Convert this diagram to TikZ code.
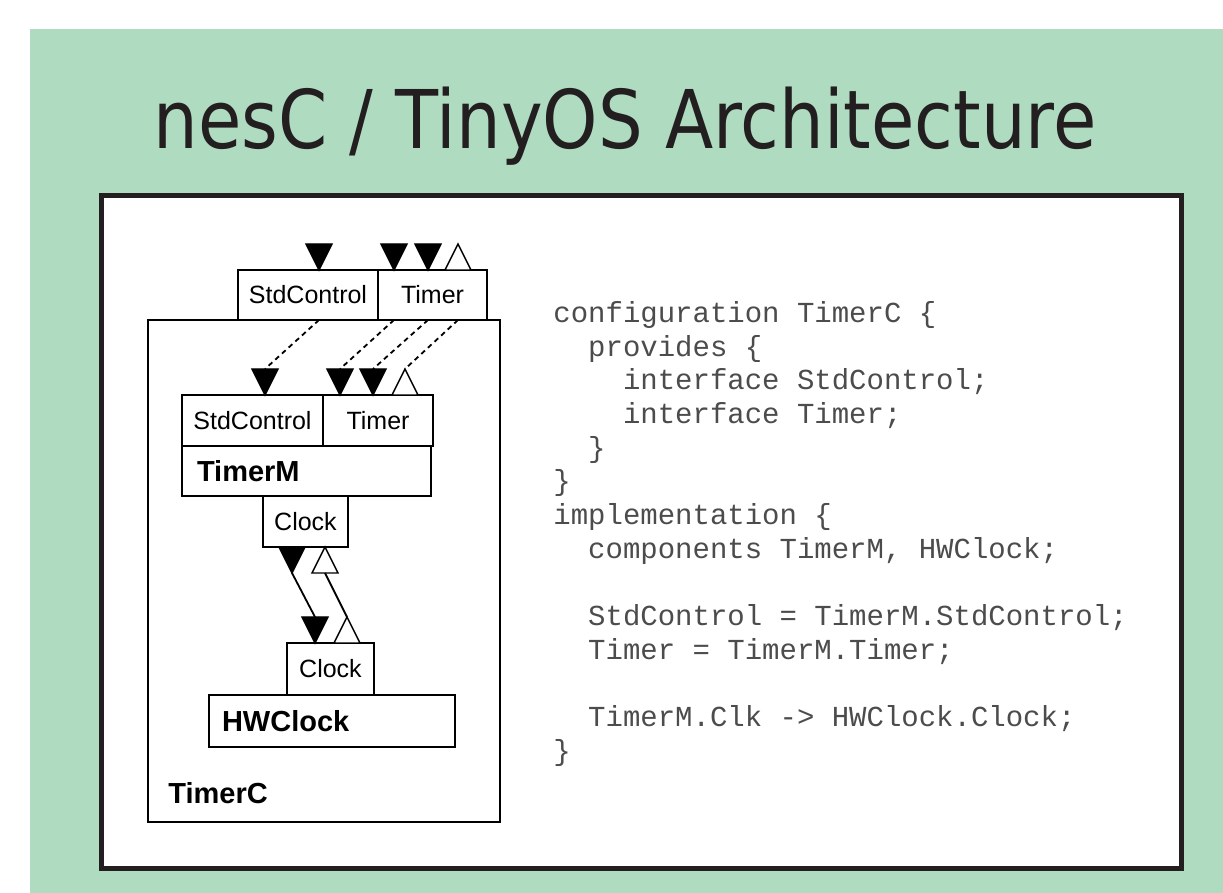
\documentclass[tikz,border=0pt]{standalone}
\usepackage{fontspec}
\setmainfont{Liberation Sans}
\setmonofont{Liberation Mono}
\newfontfamily\titlefont[FakeStretch=0.87]{DejaVu Sans}
\usetikzlibrary{shapes.geometric,positioning,calc}
\definecolor{slidegreen}{RGB}{175,219,192}
\definecolor{inkblack}{RGB}{35,31,32}

\tikzset{
  box/.style={draw, rectangle, line width=0.9pt, inner sep=0pt, outer sep=0pt},
  iface/.style={box, minimum height=25pt, font=\fontsize{12.5pt}{14pt}\selectfont},
  comp/.style={box, align=left, minimum height=25pt, font=\fontsize{14.5pt}{16pt}\selectfont\bfseries},
  tri/.style={isosceles triangle, isosceles triangle stretches, minimum width=13pt, minimum height=13pt, inner sep=0pt, outer sep=0pt, line width=0.7pt, draw},
  usetri/.style={tri, shape border rotate=-90, fill=black},
  provtri/.style={tri, shape border rotate=90, fill=white},
  wire/.style={line width=0.9pt},
  dashwire/.style={wire, dash pattern=on 2.5pt off 2pt},
  code/.style={anchor=north west, inner sep=0pt, align=left, text=black!70,
    font=\fontsize{14.5pt}{16.85pt}\selectfont\ttfamily},
}

\begin{document}
\begin{tikzpicture}[x=0.5pt, y=-0.5pt]
  \useasboundingbox (0,0) rectangle (1223,893);
  \fill[slidegreen] (30,29) rectangle (1223,893);
  \node[font=\titlefont\fontsize{40.5pt}{44pt}\selectfont, text=inkblack, anchor=base] (title) at (625,149) {nesC / TinyOS Architecture};
  \filldraw[fill=white, draw=inkblack, line width=2.5pt] (101.5,196) rectangle (1181,868.5);

  % TimerC configuration
  \node[box, minimum width=176pt, minimum height=251pt, anchor=north west] (timerc) at (148,320) {};
  \node[font=\fontsize{14.5pt}{16pt}\selectfont\bfseries, anchor=base west, inner sep=0pt] (timerclabel) at (168,804) {TimerC};
  \node[iface, minimum width=70pt, anchor=south west] (topstd) at (238,320) {StdControl};
  \node[iface, minimum width=54.5pt, anchor=west] (toptimer) at (topstd.east) {Timer};

  % TimerM module
  \node[iface, minimum width=70.5pt, minimum height=25.5pt, anchor=north west] (mstd) at (182,395) {StdControl};
  \node[iface, minimum width=55pt, minimum height=25.5pt, anchor=west] (mtimer) at (mstd.east) {Timer};
  \node[comp, text width=109.5pt, inner xsep=7.5pt, anchor=north west] (timerm) at (mstd.south west) {TimerM};
  \node[iface, minimum width=42.5pt, minimum height=25.5pt, anchor=north] (mclock) at (305.5,496) {Clock};

  % HWClock component
  \node[iface, minimum width=43.5pt, minimum height=26pt, anchor=south] (hclock) at (330.5,695) {Clock};
  \node[comp, text width=110pt, inner xsep=6.5pt, minimum height=26pt, anchor=north west] (hwclock) at (209,695) {HWClock};

  \foreach \x/\s [count=\i] in {319/usetri,394/usetri,428/usetri,458/provtri}
    \node[\s, anchor=south] (a\i) at (\x,270) {};
  \foreach \x/\s [count=\i] in {265/usetri,340/usetri,373/usetri,405/provtri}
    \node[\s, anchor=south] (b\i) at (\x,395) {};
  \foreach \i in {1,...,4}
    \draw[dashwire] (a\i |- topstd.south) -- (b\i.north);

  \node[usetri, anchor=north] (c1) at (292,547) {};
  \node[provtri, anchor=north] (c2) at (325,547) {};
  \node[usetri, anchor=south] (d1) at (315,643) {};
  \node[provtri, anchor=south] (d2) at (347,643) {};
  \draw[wire] (c1.south) -- (d1.north);
  \draw[wire] (d2.north) -- (c2.south);

  \node[code] (source) at (553,301) {configuration TimerC \{\\
\hphantom{xx}provides \{\\
\hphantom{xxxx}interface StdControl;\\
\hphantom{xxxx}interface Timer;\\
\hphantom{xx}\}\\
\}\\
implementation \{\\
\hphantom{xx}components TimerM, HWClock;\\
\mbox{}\\
\hphantom{xx}StdControl = TimerM.StdControl;\\
\hphantom{xx}Timer = TimerM.Timer;\\
\mbox{}\\
\hphantom{xx}TimerM.Clk -> HWClock.Clock;\\
\}};
\end{tikzpicture}
\end{document}
